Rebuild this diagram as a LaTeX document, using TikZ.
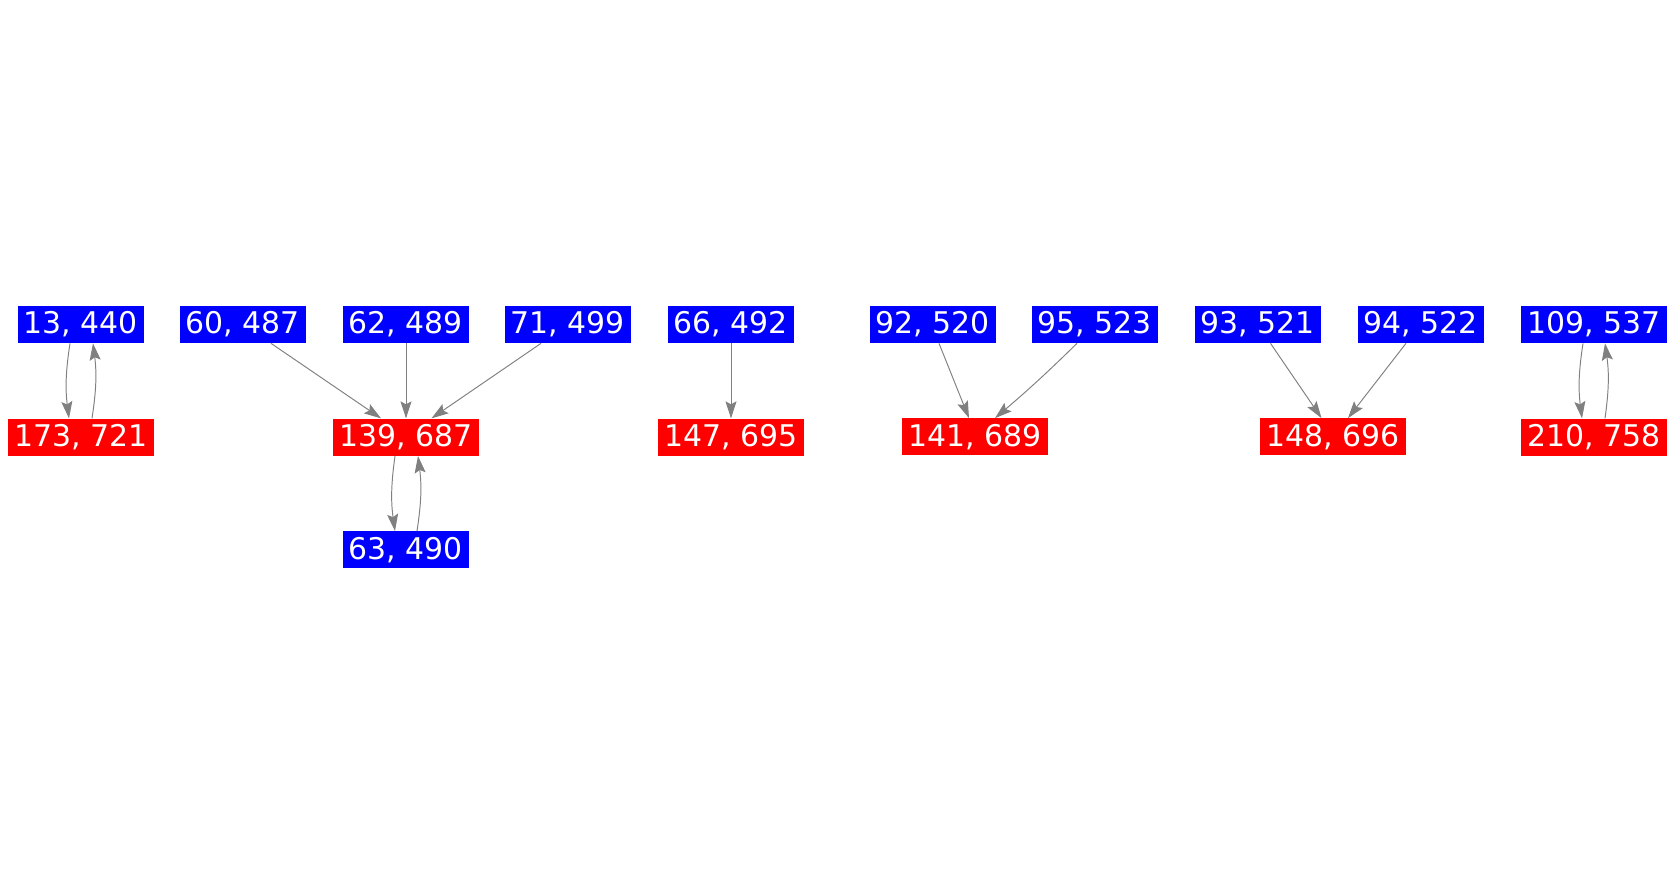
\documentclass[tikz,border=0pt]{standalone}
\usepackage{fontspec}
\setmainfont{DejaVu Sans}
\usetikzlibrary{arrows.meta,positioning}

\begin{document}
\begin{tikzpicture}[
    node distance=1.5cm,
    src/.style={rectangle, fill=blue, text=white, minimum height=0.74cm, inner ysep=0pt, inner xsep=0.125cm, font=\fontsize{17}{20}\selectfont},
    dst/.style={src, fill=red},
    arrow/.style={-{Stealth[length=0.34cm, width=0.22cm, inset=0.06cm]}, draw=gray, line width=0.55pt}
]
    \useasboundingbox (0,0) rectangle (33.5,-17.5);

    % Top row
    \node[src] (n13) at (1.62,-6.49) {13, 440};
    \node[src] (n60) at (4.86,-6.49) {60, 487};
    \node[src] (n62) at (8.12,-6.49) {62, 489};
    \node[src] (n71) at (11.36,-6.49) {71, 499};
    \node[src] (n66) at (14.62,-6.49) {66, 492};
    \node[src] (n92) at (18.66,-6.49) {92, 520};
    \node[src] (n95) at (21.90,-6.49) {95, 523};
    \node[src] (n93) at (25.16,-6.49) {93, 521};
    \node[src] (n94) at (28.42,-6.49) {94, 522};
    \node[src] (n109) at (31.88,-6.49) {109, 537};

    % Second row
    \node[dst, below=of n13] (n173) {173, 721};
    \node[dst, below=of n62] (n139) {139, 687};
    \node[dst, below=of n66] (n147) {147, 695};
    \node[dst] (n141) at (19.50,-8.74) {141, 689};
    \node[dst] (n148) at (26.66,-8.74) {148, 696};
    \node[dst, below=of n109] (n210) {210, 758};

    % Third row
    \node[src, below=of n139] (n63) {63, 490};

    % Arrows
    \draw[arrow] ([xshift=-0.22cm]n13.south) to[bend right=8] ([xshift=-0.24cm]n173.north);
    \draw[arrow] ([xshift=0.22cm]n173.north) to[bend right=8] ([xshift=0.24cm]n13.south);
    \draw[arrow] ([xshift=0.56cm]n60.south) -- ([xshift=-0.5cm]n139.north);
    \draw[arrow] (n62) -- (n139);
    \draw[arrow] ([xshift=-0.54cm]n71.south) -- ([xshift=0.51cm]n139.north);
    \draw[arrow] ([xshift=-0.22cm]n139.south) to[bend right=8] ([xshift=-0.22cm]n63.north);
    \draw[arrow] ([xshift=0.22cm]n63.north) to[bend right=8] ([xshift=0.24cm]n139.south);
    \draw[arrow] (n66) -- (n147);
    \draw[arrow] ([xshift=0.12cm]n92.south) -- ([xshift=-0.12cm]n141.north);
    \draw[arrow] ([xshift=-0.36cm]n95.south) to[bend left=2] ([xshift=0.4cm]n141.north);
    \draw[arrow] ([xshift=0.25cm]n93.south) -- ([xshift=-0.23cm]n148.north);
    \draw[arrow] ([xshift=-0.3cm]n94.south) -- ([xshift=0.3cm]n148.north);
    \draw[arrow] ([xshift=-0.22cm]n109.south) to[bend right=8] ([xshift=-0.24cm]n210.north);
    \draw[arrow] ([xshift=0.22cm]n210.north) to[bend right=8] ([xshift=0.22cm]n109.south);

\end{tikzpicture}
\end{document}
